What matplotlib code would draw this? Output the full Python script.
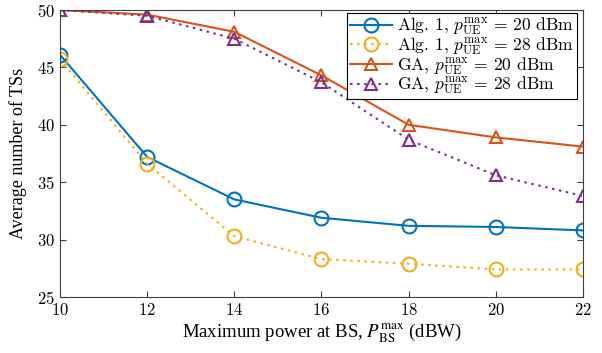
import numpy as np
import matplotlib.pyplot as plt

plt.rcParams['font.family'] = ['cmr10']
plt.rcParams['mathtext.fontset'] = 'cm'
plt.rcParams['axes.formatter.use_mathtext'] = True

# data
p_bs = [10, 12, 14, 16, 18, 20, 22]
alg1_20 = [46.1, 37.2, 33.5, 31.9, 31.2, 31.1, 30.8]
alg1_28 = [45.7, 36.6, 30.3, 28.3, 27.9, 27.4, 27.4]
ga_20 = [50.0, 49.6, 48.1, 44.3, 40.0, 38.9, 38.1]
ga_28 = [50.0, 49.5, 47.5, 43.7, 38.7, 35.6, 33.8]

fig = plt.figure(figsize=(6.02, 3.53), dpi=100)
ax = fig.add_axes([60/602, 1-297/353, 523/602, 287/353])

dot = (0, (1.2, 2.2))
ax.plot(p_bs, alg1_20, '-', color='#0072BD', lw=1.5, marker='o', ms=10, mfc='none', mew=1.5,
        label=r'Alg. 1, $p_{\mathrm{UE}}^{\max}\,=\,20$ dBm')
ax.plot(p_bs, alg1_28, linestyle=dot, color='#EDB120', lw=1.5, marker='o', ms=10, mfc='none', mew=1.5,
        label=r'Alg. 1, $p_{\mathrm{UE}}^{\max}\,=\,28$ dBm')
ax.plot(p_bs, ga_20, '-', color='#D95319', lw=1.5, marker='^', ms=9, mfc='none', mew=1.5,
        label=r'GA, $p_{\mathrm{UE}}^{\max}\,=\,20$ dBm')
ax.plot(p_bs, ga_28, linestyle=dot, color='#7E2F8E', lw=1.5, marker='^', ms=9, mfc='none', mew=1.5,
        label=r'GA, $p_{\mathrm{UE}}^{\max}\,=\,28$ dBm')

ax.set_xlim(10, 22)
ax.set_ylim(25, 50)
ax.set_xticks(p_bs)
ax.set_yticks([25, 30, 35, 40, 45, 50])
ax.tick_params(direction='in', top=True, right=True, labelsize=12, length=4, color='#404040')
for s in ax.spines.values():
    s.set_color('#404040')
    s.set_linewidth(0.8)

ax.set_xlabel(r'Maximum power at BS, $P_{\mathrm{BS}}^{\max}$ (dBW)', fontsize=13.5,
              family='Liberation Serif', math_fontfamily='stix', labelpad=3)
ax.set_ylabel('Average number of TSs', fontsize=13, family='Liberation Serif', labelpad=7)

leg = ax.legend(loc='upper right', bbox_to_anchor=(1 - 6/523, 1 - 3/287), borderaxespad=0,
                fontsize=12.6, fancybox=False, framealpha=1, edgecolor='black',
                borderpad=0.15, labelspacing=-0.1, handlelength=2.4, handletextpad=0.3)
leg.get_frame().set_linewidth(0.8)

fig.savefig('out.png', dpi=100)
